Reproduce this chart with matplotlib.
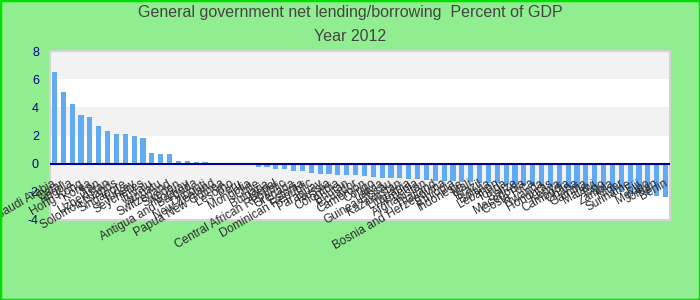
import matplotlib
matplotlib.use("Agg")
import matplotlib.pyplot as plt

countries = [
    "Saudi Arabia", "Qatar", "Angola", "Hong Kong", "Korea", "Iran",
    "Uzbekistan", "Solomon Islands", "Singapore", "Turkey", "Seychelles",
    "Tuvalu", "Vanuatu", "Switzerland", "Sweden", "Norway",
    "Antigua and Barbuda", "Djibouti", "New Zealand", "Papua New Guinea",
    "Lesotho", "Peru", "Mongolia", "Chile", "Bulgaria", "Nepal",
    "Central African Republic", "Grenada", "Estonia", "Dominican Republic",
    "Paraguay", "Russia", "Colombia", "Bhutan", "Ecuador", "Cameroon",
    "Congo", "Latvia", "Guinea-Bissau", "Kazakhstan", "Lithuania", "Armenia",
    "Afghanistan", "Thailand", "Bosnia and Herzegovina", "Ethiopia",
    "Indonesia", "Mali", "Brazil", "Bolivia", "Lebanon", "Tonga", "Belize",
    "Macedonia", "Costa Rica", "Rwanda", "Honduras", "Kenya", "Cambodia",
    "Ghana", "Gambia", "Malawi", "Togo", "Zambia", "Niger", "Suriname",
    "Fiji", "Mexico", "Jordan", "Benin",
]

values = [
    6.48, 5.07, 4.23, 3.45, 3.31, 2.68, 2.32, 2.11, 2.11, 1.97, 1.83, 0.77,
    0.70, 0.70, 0.21, 0.21, 0.14, 0.14, 0.07, 0.0, 0.0, 0.0, 0.0, -0.21,
    -0.23, -0.35, -0.35, -0.49, -0.49, -0.63, -0.70, -0.70, -0.77, -0.77,
    -0.84, -0.91, -0.95, -1.0, -1.0, -1.05, -1.1, -1.1, -1.15, -1.2, -1.2,
    -1.25, -1.3, -1.3, -1.35, -1.4, -1.4, -1.45, -1.5, -1.5, -1.55, -1.6,
    -1.65, -1.7, -1.7, -1.75, -1.8, -1.85, -1.9, -1.95, -2.0, -2.05, -2.1,
    -2.2, -2.3, -2.35,
]

yticks = [-4, -2, 0, 2, 4, 6, 8]

plt.rcParams['font.family'] = ['Liberation Sans', 'DejaVu Sans']

fig = plt.figure(figsize=(7, 3), dpi=100, facecolor="#90EE90")
fig.patches.append(plt.Rectangle((0, 0), 1, 1, transform=fig.transFigure,
                                 fill=False, edgecolor="#00E000", linewidth=2.5, zorder=10))

ax = fig.add_axes([50 / 700, 1 - 220 / 300, 620 / 700, 169 / 300])
ax.set_facecolor("white")

# interlaced bands
for lo in range(yticks[0], yticks[-1], 2):
    if (lo // 2) % 2 != 0:
        ax.axhspan(lo, lo + 2, color="#F2F2F2", zorder=0, linewidth=0)

x = list(range(len(values)))
ax.bar(x, values, width=0.57, color="#62AAF4", zorder=2)
ax.axhline(0, color="#00008B", linewidth=1.5, zorder=3)

ax.set_xlim(-0.5, len(values) - 0.5)
ax.set_ylim(yticks[0], yticks[-1])
ax.set_yticks(yticks)
ax.set_yticklabels([str(t) for t in yticks], color="#000080", fontsize=9)
ax.tick_params(axis="y", length=0, pad=8)
ax.set_xticks([])

for s in ax.spines.values():
    s.set_color("#D4D4D4")
    s.set_linewidth(1.5)

for i, name in enumerate(countries):
    ax.annotate(name, xy=(i, 0), xytext=(-1.5, -10), textcoords="offset points",
                rotation=30, ha="right", va="top", rotation_mode="anchor",
                fontsize=8.5, color="#2a2a2a", zorder=4, annotation_clip=False)

fig.text(0.5, 0.957, "General government net lending/borrowing  Percent of GDP",
         ha="center", va="center", fontsize=11.5, color="#444444")
fig.text(0.5, 0.877, "Year 2012", ha="center", va="center", fontsize=11.5, color="#444444")

fig.savefig("out.png", dpi=100, facecolor=fig.get_facecolor())
